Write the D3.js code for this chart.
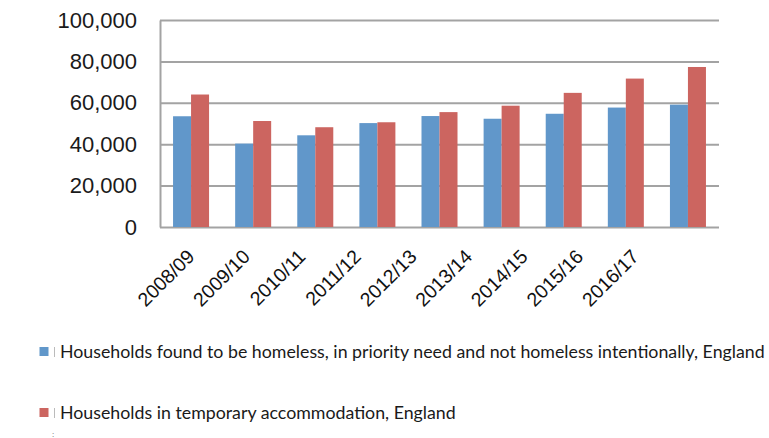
<!DOCTYPE html>
<html>
<head>
<meta charset="utf-8">
<script src="https://cdn.jsdelivr.net/npm/d3@7.9.0/dist/d3.min.js"></script>
<style>
  html, body { margin: 0; padding: 0; background: #fff; }
</style>
</head>
<body>
<div id="chart"></div>
<script>
const years = ['2008/09', '2009/10', '2010/11', '2011/12', '2012/13', '2013/14', '2014/15', '2015/16', '2016/17'];
const homelessAccepted = [53500, 40300, 44300, 50200, 53600, 52300, 54700, 57700, 59100];
const tempAccommodation = [64000, 51200, 48200, 50600, 55500, 58600, 64800, 71700, 77300];
const seriesNames = [
  'Households found to be homeless, in priority need and not homeless intentionally, England',
  'Households in temporary accommodation, England'
];
const seriesColors = ['#6197ca', '#cc6560'];
const yTicks = [0, 20000, 40000, 60000, 80000, 100000];

const width = 769;
const height = 438;
const margin = { top: 20, right: 50, bottom: 211, left: 160 };

const svg = d3.select('#chart')
  .append('svg')
  .attr('width', width)
  .attr('height', height)
  .style('font-family', '"Liberation Sans", Arial, sans-serif');

svg.append('rect').attr('width', width).attr('height', height).attr('fill', '#fff');

const x0 = d3.scaleBand()
  .domain(years)
  .range([margin.left, width - margin.right])
  .padding(0);

const x1 = d3.scaleBand()
  .domain([0, 1])
  .range([0, x0.bandwidth()])
  .paddingInner(0)
  .paddingOuter(0.725);

const y = d3.scaleLinear()
  .domain([0, 100000])
  .range([height - margin.bottom, margin.top]);

// gridlines
svg.append('g')
  .attr('transform', `translate(${margin.left},0)`)
  .call(d3.axisLeft(y).tickValues(yTicks).tickSize(-(width - margin.left - margin.right)).tickFormat(''))
  .call(g => g.select('.domain').remove())
  .call(g => g.selectAll('line').attr('stroke', '#a3a3a3').attr('stroke-width', 2));

// bars
const rows = years.map((yr, i) => ({ yr, vals: [homelessAccepted[i], tempAccommodation[i]] }));

svg.append('g')
  .selectAll('g')
  .data(rows)
  .join('g')
  .attr('transform', d => `translate(${x0(d.yr)},0)`)
  .selectAll('rect')
  .data(d => d.vals.map((v, k) => ({ k, v })))
  .join('rect')
  .attr('x', d => x1(d.k))
  .attr('width', x1.bandwidth())
  .attr('y', d => y(d.v))
  .attr('height', d => y(0) - y(d.v))
  .attr('fill', d => seriesColors[d.k]);

// left axis
svg.append('g')
  .attr('transform', `translate(${margin.left},0)`)
  .call(d3.axisLeft(y).tickValues(yTicks).tickSize(0).tickPadding(23).tickFormat(d3.format(',')))
  .call(g => g.select('.domain').attr('stroke', '#a3a3a3').attr('stroke-width', 2))
  .call(g => g.selectAll('text').attr('font-size', 22).attr('fill', '#1a1a1a').attr('font-family', '"Liberation Sans", Arial, sans-serif'));

// category labels (label row sits slightly compressed relative to bars, as in the source)
const xl = d3.scaleBand()
  .domain(years)
  .range([margin.left + 3, margin.left + 503]);

svg.append('g')
  .selectAll('text')
  .data(years)
  .join('text')
  .attr('transform', d => `translate(${xl(d) + xl.bandwidth() / 2},253) rotate(-45)`)
  .attr('text-anchor', 'end')
  .attr('dy', '0.35em')
  .attr('font-size', 19.5)
  .attr('fill', '#111')
  .text(d => d);

// legend
const legendBaselines = [358, 419];
const legend = svg.append('g');
seriesNames.forEach((name, i) => {
  const by = legendBaselines[i];
  legend.append('rect')
    .attr('x', 39.5).attr('y', by - 11)
    .attr('width', 9).attr('height', 9)
    .attr('fill', seriesColors[i]);
  legend.append('line')
    .attr('x1', 54.5).attr('x2', 54.5)
    .attr('y1', by - 11).attr('y2', by - 1)
    .attr('stroke', '#bbb').attr('stroke-width', 1);
  legend.append('text')
    .attr('class', 'legend-label')
    .attr('x', 60).attr('y', by)
    .attr('font-family', 'Lato, "Open Sans", sans-serif')
    .attr('font-size', 16)
    .attr('fill', '#1a1a1a')
    .text(name);
});
legend.append('text')
  .attr('x', 52).attr('y', 437)
  .attr('font-size', 8)
  .attr('fill', '#555')
  .text(':');

// fit first legend line to the source width
const labels = legend.selectAll('.legend-label');
const w = labels.nodes()[0].getComputedTextLength();
labels.attr('font-size', 16 * 705 / w);
</script>
</body>
</html>
